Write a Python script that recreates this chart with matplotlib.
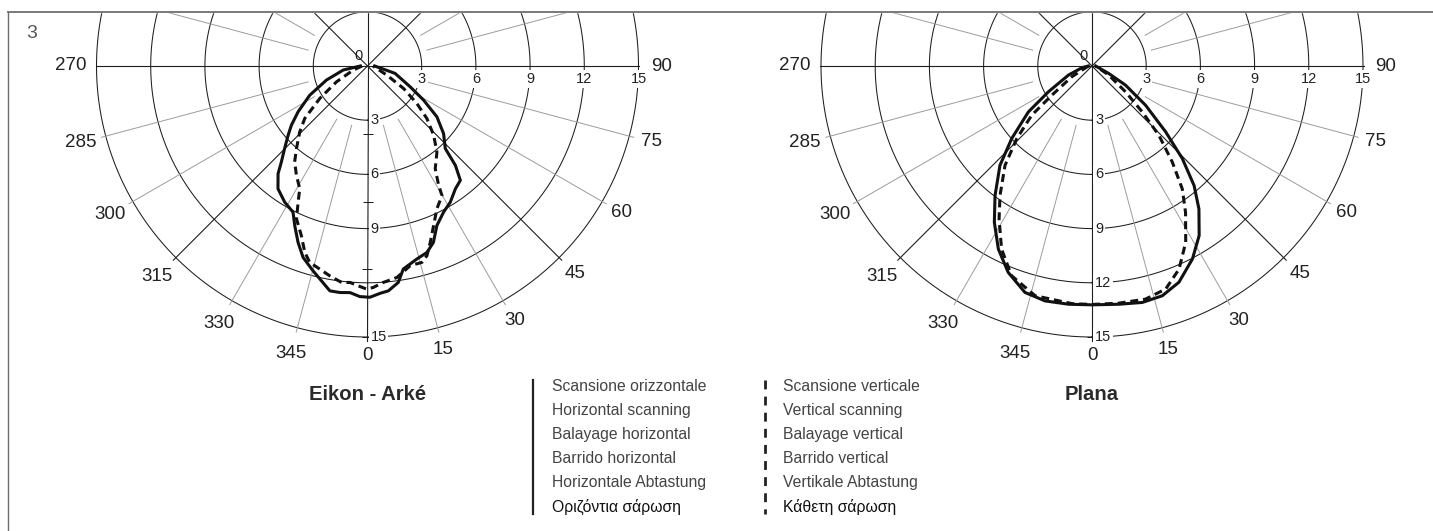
import numpy as np
import matplotlib.pyplot as plt
from matplotlib.lines import Line2D
from matplotlib.patches import Rectangle

plt.rcParams['font.family'] = ['Liberation Sans', 'DejaVu Sans']

W, H = 1433, 531

# grid of the photometric diagrams
rings = [3, 6, 9, 12, 15]
angle_labels = [0, 15, 30, 45, 60, 75, 90, 270, 285, 300, 315, 330, 345]
main_spokes = [0, 45, 90, 135, 180, 225, 270, 315]
thin_spokes = [15, 30, 60, 75, 105, 120, 150, 165,
               195, 210, 240, 255, 285, 300, 330, 345]

# Eikon - Arke, horizontal scanning (solid)
eikon_h_deg = [-90, -80.6, -71.1, -63.2, -56.6, -52.1, -48.9, -45.1, -41.9, -39.7,
               -36.1, -31.3, -27.0, -24.5, -21.5, -18.6, -14.9, -12.1, -9.5, -6.9,
               -4.4, -1.9, 0.6, 3.2, 5.3, 8.1, 10.0, 14.3, 17.7, 20.5,
               23.5, 27.5, 31.3, 35.6, 39.1, 41.5, 43.3, 48.4, 53.8, 58.7,
               64.0, 75.0, 90]
eikon_h_val = [0.4, 1.36, 2.4, 3.58, 4.6, 5.34, 5.83, 6.48, 7.14, 7.75,
               8.41, 8.82, 9.08, 9.71, 10.49, 11.18, 11.73, 12.16, 12.62, 12.63,
               12.58, 12.77, 12.8, 12.6, 12.5, 12.1, 11.41, 11.03, 10.83, 10.42,
               9.63, 9.12, 8.82, 8.36, 8.15, 7.34, 6.28, 5.63, 4.76, 3.63,
               2.63, 1.58, 0.4]

# Eikon - Arke, vertical scanning (dashed)
eikon_v_deg = [-90, -74, -63, -55.8, -50.1, -45.8, -40.7, -37.2, -33.0, -28.9,
               -27.0, -24.9, -21.3, -18.6, -16.4, -13.2, -10.2, -6.8, -4.6, -2.4,
               -0.2, 1.5, 4.2, 7.9, 12.1, 15.5, 17.4, 19.6, 22.5, 25.9,
               29.9, 30.8, 33.4, 38.9, 43.7, 48.5, 52.8, 58.1, 64.8, 90]
eikon_v_val = [0.3, 0.82, 1.92, 3.19, 4.53, 5.23, 6.03, 6.67, 7.22, 7.76,
               8.46, 9.33, 10.08, 10.88, 11.33, 11.55, 11.8, 12.07, 12.02, 12.18,
               12.35, 12.26, 12.01, 11.82, 11.3, 11.28, 11.0, 10.36, 9.56, 8.79,
               8.27, 7.69, 6.81, 6.12, 5.3, 4.39, 3.43, 2.35, 1.18, 0.3]

# Plana, horizontal scanning (solid)
plana_h_deg = [-90, -80.5, -69, -59.4, -54.2, -47.9, -42.8, -36.8, -32.0, -27.1,
               -22.1, -16.5, -11.3, -5.6, 0, 6.4, 12.0, 17.0, 21.9, 27.5,
               32.3, 36.8, 40.5, 44.3, 48.2, 53.8, 60.3, 66, 90]
plana_h_val = [0.2, 0.56, 1.39, 2.8, 4.34, 5.99, 7.5, 8.96, 10.2, 11.38,
               12.33, 13.07, 13.26, 13.25, 13.22, 13.27, 13.38, 13.3, 12.9, 12.04,
               11.1, 9.88, 8.7, 7.16, 5.47, 3.67, 2.13, 1.01, 0.2]

# Plana, vertical scanning (dashed)
plana_v_deg = [-90, -62, -54, -50.8, -46, -41.2, -35.4, -31.3, -26.3, -21,
               -13.9, -4.8, 0, 6.4, 12.9, 18.3, 23.2, 28, 32.6, 36.3,
               39.9, 44, 47.6, 52.4, 61.6, 90]
plana_v_val = [0.2, 1.26, 2.74, 4.3, 5.79, 7.31, 8.79, 9.9, 11.3, 12.43,
               13.1, 13.2, 13.2, 13.21, 13.24, 13.0, 12.23, 11.05, 9.61, 8.44,
               6.93, 5.33, 3.76, 2.34, 1.05, 0.2]

eikon_axis_labels = [3, 6, 9, 15]
plana_axis_labels = [3, 6, 9, 12, 15]
eikon_ticks = [3.75, 7.5, 11.25, 15]
plana_ticks = [15]

legend_solid = ['Scansione orizzontale', 'Horizontal scanning', 'Balayage horizontal',
                'Barrido horizontal', 'Horizontale Abtastung', 'Οριζόντια σάρωση']
legend_dashed = ['Scansione verticale', 'Vertical scanning', 'Balayage vertical',
                 'Barrido vertical', 'Vertikale Abtastung', 'Κάθετη σάρωση']

fig = plt.figure(figsize=(W / 100, H / 100), dpi=100)

R15 = 271.0      # pixels for r = 15
RMAX = 17.0
rad_px = R15 * RMAX / 15
white_box = dict(boxstyle='square,pad=0.12', fc='white', ec='none')


def diagram(cx, cy, h_deg, h_val, v_deg, v_val, axis_labels, ticks, title):
    ax = fig.add_axes([(cx - rad_px) / W, (H - cy - rad_px) / H,
                       2 * rad_px / W, 2 * rad_px / H], projection='polar')
    ax.set_theta_zero_location('S')
    ax.set_ylim(0, RMAX)
    ax.set_axis_off()

    circ = np.linspace(0, 2 * np.pi, 721)
    for r in rings:
        ax.plot(circ, [r] * len(circ), color='#1e1e1e', lw=0.75, zorder=1)
    for a in thin_spokes:
        t = np.radians(a)
        ax.plot([t, t], [3.4, 15.25], color='#9c9c9c', lw=0.7, zorder=1)
    for a in main_spokes:
        t = np.radians(a)
        end = 15.05 if a in (90, 270) else 15.2
        ax.plot([t, t], [0, end], color='#1e1e1e', lw=0.8, zorder=1)

    ax.plot([0] * len(ticks), ticks, ls='none', marker='_', ms=7.5, mew=0.7,
            color='#1e1e1e', zorder=2)

    for a in angle_labels:
        s = str(a)
        ax.text(np.radians(a), 15.85 + 0.2 * len(s), s, ha='center', va='center',
                fontsize=13.5, color='#222222')

    for v in axis_labels:
        ax.annotate(str(v), xy=(0, v), xytext=(3, 0), textcoords='offset pixels',
                    ha='left', va='center', fontsize=10.5, color='#222222',
                    bbox=white_box, zorder=3)
    for v in rings:
        ax.annotate(str(v), xy=(np.radians(90), v), xytext=(0, -13),
                    textcoords='offset pixels', ha='center', va='center',
                    fontsize=10.5, color='#222222', bbox=white_box, zorder=3)
    ax.annotate('0', xy=(0, 0), xytext=(-9, 10), textcoords='offset pixels',
                ha='center', va='center', fontsize=10.5, color='#222222')

    ax.plot(np.radians(h_deg), h_val, color='#111111', lw=2.2,
            solid_joinstyle='round', zorder=4)
    ax.plot(np.radians(v_deg), v_val, color='#111111', lw=2.2,
            linestyle=(0, (2.6, 1.6)), zorder=4)

    fig.text(cx / W, 1 - 395 / H, title, ha='center', va='center',
             fontsize=14.6, fontweight='bold', color='#2a2a2a')


diagram(367.5, 66, eikon_h_deg, eikon_h_val, eikon_v_deg, eikon_v_val,
        eikon_axis_labels, eikon_ticks, 'Eikon - Arké')
diagram(1092, 66, plana_h_deg, plana_h_val, plana_v_deg, plana_v_val,
        plana_axis_labels, plana_ticks, 'Plana')

# white mask above the frame, then the frame lines
top = 11.7
fig.add_artist(Rectangle((0, 1 - top / H), 1, top / H, transform=fig.transFigure,
                         color='white', zorder=5))
fig.add_artist(Line2D([8.3 / W, 1], [1 - top / H] * 2, transform=fig.transFigure,
                      color='#6e6e6e', lw=1.3, zorder=6))
fig.add_artist(Line2D([8.3 / W] * 2, [0, 1 - top / H], transform=fig.transFigure,
                      color='#6e6e6e', lw=1.0, zorder=6))
fig.text(32 / W, 1 - 33 / H, '3', ha='center', va='center', fontsize=14,
         color='#555555')

# legend
fig.add_artist(Line2D([533.3 / W] * 2, [1 - 380 / H, 1 - 514 / H],
                      transform=fig.transFigure, color='#222222', lw=1.6))
fig.add_artist(Line2D([765 / W] * 2, [1 - 380 / H, 1 - 514 / H],
                      transform=fig.transFigure, color='#222222', lw=2.0,
                      linestyle=(0, (3.2, 2.6))))
for i, (s1, s2) in enumerate(zip(legend_solid, legend_dashed)):
    c = '#111111' if i == 5 else '#444444'
    y = 1 - (386.7 + 24 * i) / H
    fig.text(551.7 / W, y, s1, ha='left', va='center', fontsize=11.3, color=c)
    fig.text(783.3 / W, y, s2, ha='left', va='center', fontsize=11.3, color=c)

fig.savefig('out.png', dpi=100, facecolor='white')
